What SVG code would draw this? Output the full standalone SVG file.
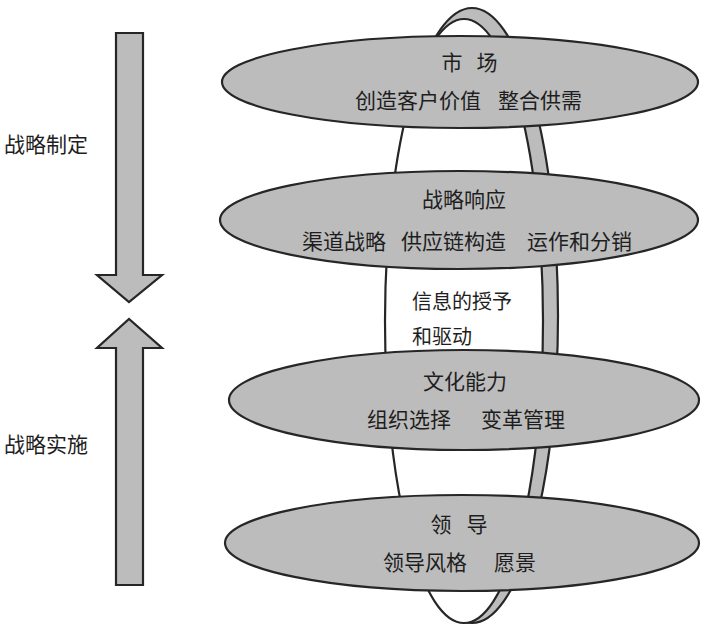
<svg xmlns="http://www.w3.org/2000/svg" width="702" height="626" viewBox="0 0 702 626">
<style>
.g{fill:#bcbcbc;stroke:#262626;stroke-width:2.2}
.w{fill:#ffffff;stroke:#262626;stroke-width:2.2}
text{font-family:"Noto Sans CJK SC","Noto Sans CJK TC",sans-serif;font-size:21px;fill:#1e1e1e}
.c{text-anchor:middle}
</style>
<rect width="702" height="626" fill="#ffffff"/>
<g id="ring">
<ellipse class="g" cx="472" cy="315.5" rx="86" ry="307.5"/>
<ellipse class="w" cx="464" cy="321" rx="79" ry="302"/>
</g>
<g id="connectors">
<path class="g" d="M116,33 H143 V275 H162 L129,302 L97,275 H116 Z"/>
<path class="g" d="M116,585 H143 V348 H162 L129,319 L97,348 H116 Z"/>
</g>
<g id="label-formulate"><text x="4" y="152">战略制定</text></g>
<g id="label-implement"><text x="4" y="452">战略实施</text></g>
<g id="market">
<ellipse class="g" cx="460" cy="82" rx="238" ry="46"/>
<text class="c" x="452" y="70">市</text>
<text class="c" x="487" y="70">场</text>
<text x="355" y="108">创造客户价值</text>
<text x="498" y="108">整合供需</text>
</g>
<g id="response">
<ellipse class="g" cx="459" cy="220" rx="239" ry="49"/>
<text class="c" x="464" y="207">战略响应</text>
<text x="302" y="249">渠道战略</text>
<text x="401" y="249">供应链构造</text>
<text x="527" y="249">运作和分销</text>
</g>
<g id="info">
<text x="412" y="309" style="font-size:20px">信息的授予</text>
<text x="412" y="344" style="font-size:20px">和驱动</text>
</g>
<g id="culture">
<ellipse class="g" cx="464" cy="400" rx="235" ry="50"/>
<text class="c" x="465" y="389">文化能力</text>
<text x="367" y="427">组织选择</text>
<text x="481" y="427">变革管理</text>
</g>
<g id="leadership">
<ellipse class="g" cx="462" cy="543" rx="237" ry="48"/>
<text class="c" x="441" y="532">领</text>
<text class="c" x="477" y="532">导</text>
<text x="383" y="570">领导风格</text>
<text x="494" y="570">愿景</text>
</g>
</svg>
